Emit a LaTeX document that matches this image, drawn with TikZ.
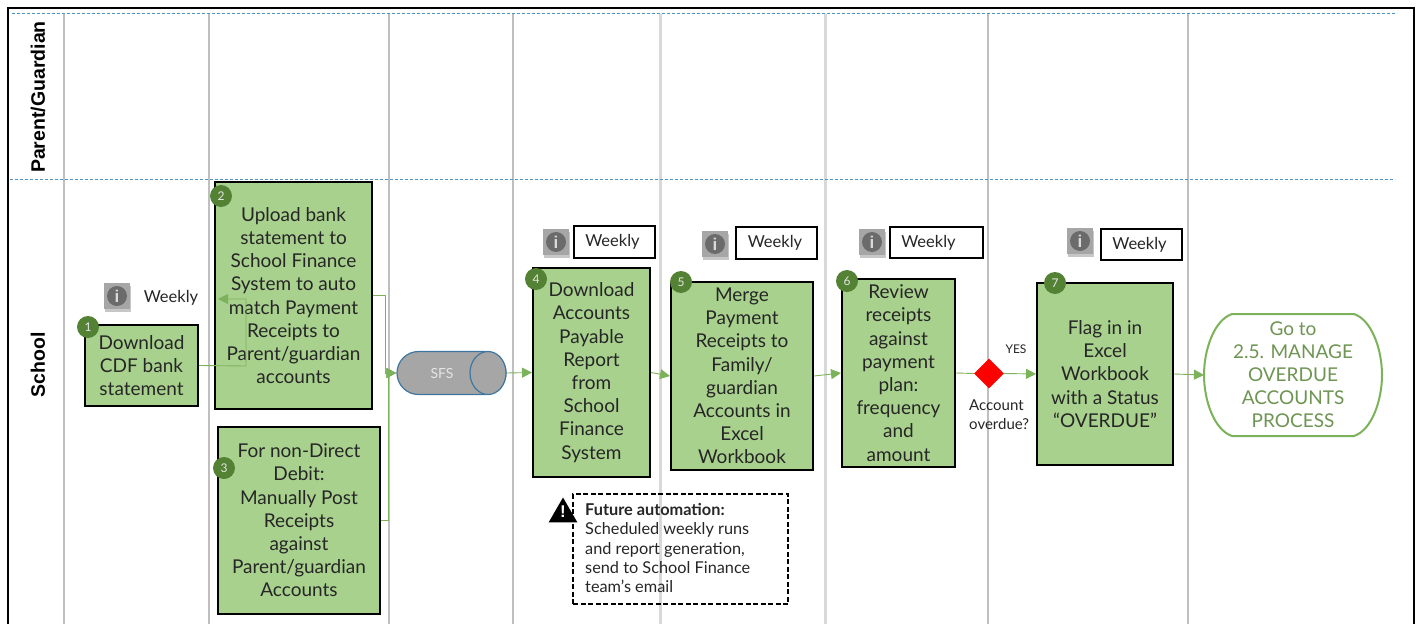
\documentclass[tikz,border=0pt]{standalone}
\usepackage{xcolor}
\usepackage{fontspec}
\setmainfont{Lato}
\newfontfamily\lanefont{Liberation Sans}
\usetikzlibrary{arrows.meta}
\usetikzlibrary{shapes.geometric, shapes.misc, positioning}
\definecolor{procgreen}{HTML}{A9D18E}
\definecolor{badgegreen}{HTML}{548235}
\definecolor{flowgreen}{HTML}{7CB35A}
\definecolor{lanegray}{HTML}{BFBFBF}
\definecolor{lanelight}{HTML}{D9D9D9}
\definecolor{laneblue}{HTML}{4F94C8}
\definecolor{inktext}{HTML}{262626}
\begin{document}
\begin{tikzpicture}[x=1pt,y=-1pt]
		\tikzset{
			flowtip/.tip={Triangle[length=10pt, width=10pt]},
			flow/.style={draw=flowgreen, line width=0.9pt, -flowtip},
			stepbox/.style={draw=black, line width=2pt, fill=procgreen, inner sep=0pt, align=center, text=inktext, font=\fontsize{19}{23.2}\selectfont, execute at begin node={\rule{0pt}{21pt}}},
			badge/.style={circle, fill=badgegreen, minimum size=22pt, inner sep=0pt, text=white!90!black, font=\fontsize{12}{14}\selectfont},
			freqbox/.style={draw=black, line width=1.3pt, fill=white, inner sep=0pt, text=inktext, font=\fontsize{16.5}{20}\selectfont},
			lanelabel/.style={rotate=90, font=\lanefont\bfseries\fontsize{19.5}{23}\selectfont},
			swimline/.style={dashed, dash pattern=on 3pt off 2pt, draw=laneblue, line width=0.8pt},
			infoicon/.pic={
				\fill[black!22] (-12,-10) rectangle (14,16);
				\fill[gray!70!white] (-13,-13) rectangle (13,13);
				\node[circle, fill=black!58, minimum size=20pt, inner sep=0pt, text=white!85!black, font=\lanefont\bfseries\fontsize{17}{17}\selectfont] at (0,0) {i};
			},
		}
		\useasboundingbox (0,0) rectangle (1417,624);
		\fill[white] (0,0) rectangle (1417,624);
		\foreach \xpos in {64,209,389,513,988,1188} {
			\draw[lanegray, line width=1.6pt] (\xpos,14) -- (\xpos,624);
		}
		\foreach \xpos in {660,825} {
			\draw[lanelight, line width=3pt] (\xpos,14) -- (\xpos,624);
		}
		\draw[black, line width=1.6pt] (8,624) -- (8,8) -- (1414,8) -- (1414,624);
		\draw[swimline] (12,13) -- (1397,13);
		\draw[swimline] (10,179) -- (1395,179);
		\node[lanelabel] (parent) at (38,97) {Parent/Guardian};
		\node[lanelabel] (school) at (38,365) {School};

		\node[stepbox, minimum width=113pt, minimum height=81pt] (step1) at (141.5,365.5) {Download\\CDF bank\\statement};
		\node[stepbox, minimum width=157pt, minimum height=227pt] (step2) at (293.5,295.5) {Upload bank\\statement to\\School Finance\\System to auto\\match Payment\\Receipts to\\Parent/guardian\\accounts};
		\node[stepbox, minimum width=162pt, minimum height=187pt] (step3) at (299,520.5) {For non-Direct\\Debit:\\Manually Post\\Receipts\\against\\Parent/guardian\\Accounts};
		\node[stepbox, minimum width=117pt, minimum height=209pt] (step4) at (591.5,372.5) {Download\\Accounts\\Payable\\Report\\from\\School\\Finance\\System};
		\node[stepbox, minimum width=142pt, minimum height=188pt] (step5) at (742,376) {Merge\\Payment\\Receipts to\\Family/\\guardian\\Accounts in\\Excel\\Workbook};
		\node[stepbox, minimum width=113pt, minimum height=188pt] (step6) at (898.5,373) {Review\\receipts\\against\\payment\\plan:\\frequency\\and\\amount};
		\node[stepbox, minimum width=136pt, minimum height=182pt] (step7) at (1105,374) {Flag in in\\Excel\\Workbook\\with a Status\\``OVERDUE''};

		\node[rounded rectangle, draw=laneblue!80!black, line width=1.2pt, fill=gray!70!white, minimum width=109pt, minimum height=43pt, inner sep=0pt] (sfs) at (451.5,373) {};
		\node[ellipse, draw=laneblue!80!black, line width=1.2pt, fill=gray!70!white, minimum width=36pt, minimum height=43pt, inner sep=0pt] (sfsend) at (488,373) {};
		\node[text=white!90!black, font=\fontsize{14}{16}\selectfont] (sfslabel) at (442,373) {SFS};
		\node[diamond, fill=red, minimum size=30pt, inner sep=0pt] (overdue) at (989,373.5) {};
		\node[minimum width=178pt, minimum height=122pt, inner sep=0pt, align=center, text=badgegreen!85!white, font=\fontsize{19}{23}\selectfont] (goto) at (1293,375) {Go to\\2.5. MANAGE\\OVERDUE\\ACCOUNTS\\PROCESS};
		\draw[draw=flowgreen, line width=2pt] (1232,314) -- (1354,314) .. controls (1372,320) and (1382,350) .. (1382,375) .. controls (1382,400) and (1372,430) .. (1354,436) -- (1232,436) .. controls (1214,430) and (1204,400) .. (1204,375) .. controls (1204,350) and (1214,320) .. (1232,314) -- cycle;

		\node[badge] (badge1) at (88,327) {1};
		\node[badge] (badge2) at (221,196) {2};
		\node[badge] (badge3) at (224,468) {3};
		\node[badge] (badge4) at (536,279) {4};
		\node[badge] (badge5) at (681,282) {5};
		\node[badge] (badge6) at (847,281) {6};
		\node[badge] (badge7) at (1055,283) {7};

		\pic at (117,296) {infoicon};
		\pic at (556,242) {infoicon};
		\pic at (715,244) {infoicon};
		\pic at (872,242) {infoicon};
		\pic at (1080,241) {infoicon};
		\node[text=inktext, font=\fontsize{16.5}{20}\selectfont] (freq1) at (171,298) {Weekly};
		\node[freqbox, minimum width=81pt, minimum height=32pt] (freq4) at (614.5,242) {\hspace*{-4pt}\raisebox{-1pt}{Weekly}};
		\node[freqbox, minimum width=81pt, minimum height=32pt] (freq5) at (776.5,243) {\hspace*{-3pt}\raisebox{-1pt}{Weekly}};
		\node[freqbox, minimum width=93pt, minimum height=31pt] (freq6) at (936.5,242.5) {\hspace*{-16pt}\raisebox{-1pt}{Weekly}};
		\node[freqbox, minimum width=81pt, minimum height=31pt] (freq7) at (1141.5,244.5) {\hspace*{-4pt}\raisebox{-1pt}{Weekly}};

		\coordinate (back2) at (218,299);
		\coordinate (turn2) at (246,366);
		\coordinate (merge2) at (385,373);
		\coordinate (merge3) at (388,373);
		\draw[flow] (step1.east) -- (turn2) |- (back2);
		\draw[flow] (step2.east) -| (merge2) -- (sfs.west);
		\draw[flow] (step3.east) -| (merge3) -- (sfs.west);
		\draw[flow] (sfsend.east) -- (step4.west);
		\draw[flow] (step4.east) -- (step5.west);
		\draw[flow] (step5.east) -- (step6.west);
		\draw[flow, -] (step6.east) -- (overdue.west);
		\draw[flow] (overdue.east) -- (step7.west);
		\draw[flow] (step7.east) -- (1204,375);

		\node[text=inktext, font=\fontsize{12}{14}\selectfont] (yes) at (1016,349) {YES};
		\node[anchor=north west, inner sep=0pt, align=left, text=inktext, font=\fontsize{15}{19}\selectfont] (question) at (969,400) {Account\\overdue?};

		\node[draw=black, line width=1.5pt, dashed, dash pattern=on 5pt off 2.5pt, fill=none, minimum width=215pt, minimum height=110pt, inner sep=0pt] (futurebox) at (680.5,549) {};
		\node[anchor=north west, inner sep=0pt, align=left, text=inktext, font=\fontsize{16.3}{19.4}\selectfont] (future) at (585,503) {\textbf{Future automation:}\\Scheduled weekly runs\\and report generation,\\send to School Finance\\team's email};
		\node[regular polygon, regular polygon sides=3, fill=black, minimum size=33pt, inner sep=0pt] (warning) at (563,514) {};
		\node[text=white, font=\lanefont\bfseries\fontsize{17}{17}\selectfont, inner sep=0pt] (warnmark) at (563,512) {!};
	\end{tikzpicture}
\end{document}
